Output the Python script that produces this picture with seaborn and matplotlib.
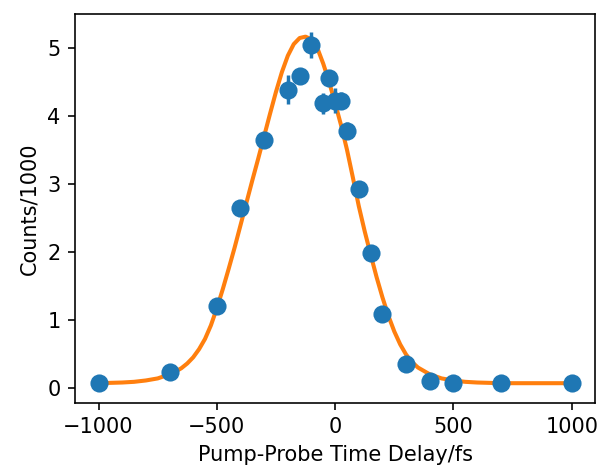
import numpy as np
import matplotlib
matplotlib.use("Agg")
import matplotlib.pyplot as plt
import seaborn as sns
import pandas as pd

plt.rcParams['font.size'] = 10.3

# Measured points (delay in fs, counts/1000) with error bars
delay = [-1000, -700, -500, -400, -300, -200, -150, -100, -50, -25, 0, 25,
         50, 100, 150, 200, 300, 400, 500, 700, 1000]
counts = [0.07, 0.23, 1.20, 2.65, 3.64, 4.38, 4.58, 5.04, 4.18, 4.55, 4.22, 4.22,
          3.78, 2.92, 1.98, 1.08, 0.35, 0.10, 0.08, 0.07, 0.07]
count_err = [0.03, 0.05, 0.08, 0.10, 0.12, 0.21, 0.12, 0.19, 0.15, 0.12, 0.18, 0.12,
             0.12, 0.10, 0.08, 0.06, 0.04, 0.03, 0.03, 0.03, 0.03]

# Fitted curve
fit_delay = [-1000, -900, -850, -800, -750, -700, -675, -650, -625, -600, -575, -550,
             -525, -500, -475, -450, -425, -400, -375, -350, -325, -300, -275, -250,
             -225, -200, -175, -150, -125, -100, -75, -50, -25, 0, 25, 50, 75, 100,
             125, 150, 175, 200, 225, 250, 275, 300, 325, 350, 400, 450, 500, 550,
             600, 700, 800, 1000]
fit_counts = [0.07, 0.08, 0.09, 0.11, 0.14, 0.20, 0.24, 0.29, 0.36, 0.45, 0.57, 0.72,
              0.92, 1.17, 1.45, 1.75, 2.06, 2.39, 2.72, 3.05, 3.37, 3.70, 4.03, 4.35,
              4.64, 4.88, 5.05, 5.14, 5.16, 5.12, 4.99, 4.76, 4.49, 4.18, 3.86, 3.50,
              3.09, 2.67, 2.30, 1.96, 1.63, 1.33, 1.06, 0.83, 0.64, 0.49, 0.38, 0.30,
              0.20, 0.14, 0.11, 0.09, 0.08, 0.07, 0.07, 0.07]

data = pd.DataFrame({"delay": delay, "counts": counts, "err": count_err})
fit = pd.DataFrame({"delay": fit_delay, "counts": fit_counts})

dpi = 146
fig = plt.figure(figsize=(599 / dpi, 474 / dpi), dpi=dpi)
ax = fig.add_axes([0.125, 0.150, 0.869, 0.820])

# fit line underneath, points on top
sns.lineplot(data=fit, x="delay", y="counts", color="#ff7f0e", linewidth=2.0,
             estimator=None, ax=ax, zorder=2)
ax.errorbar(data["delay"], data["counts"], yerr=data["err"], fmt="none",
            ecolor="#1f77b4", elinewidth=1.7, zorder=3)
sns.scatterplot(data=data, x="delay", y="counts", color="#1f77b4", s=80,
                linewidth=0, ax=ax, zorder=4)

ax.set_xticks([-1000, -500, 0, 500, 1000])
ax.set_yticks([0, 1, 2, 3, 4, 5])
ax.set_xlabel("Pump-Probe Time Delay/fs")
ax.set_ylabel("Counts/1000")

fig.savefig("out.png", dpi=dpi)
